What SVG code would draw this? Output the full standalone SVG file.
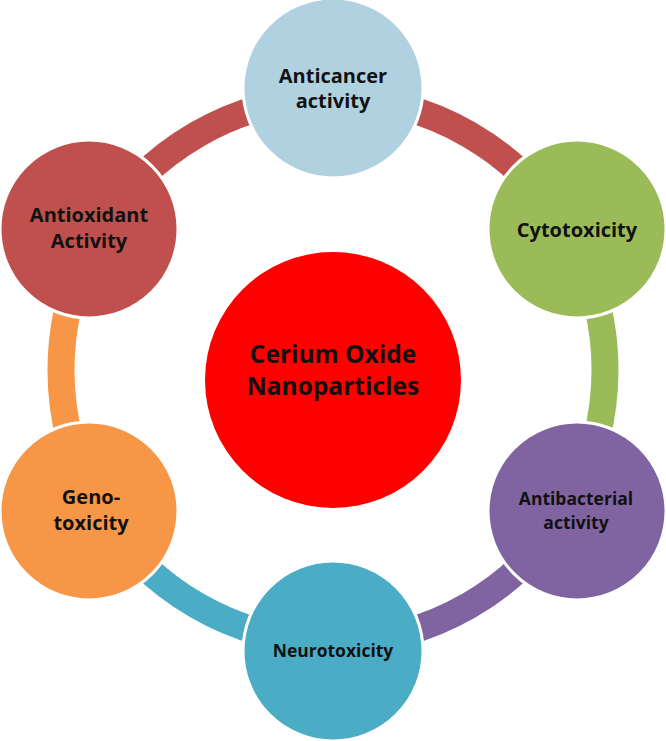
<svg xmlns="http://www.w3.org/2000/svg" width="666" height="741" viewBox="0 0 666 741">
<style>
.seg{fill:none;stroke-width:27}
.node{stroke:#ffffff;stroke-width:3}
.lbl{font-family:"Open Sans","Noto Sans",sans-serif;font-weight:bold;fill:#111111;text-anchor:middle}
</style>
<rect width="666" height="741" fill="#ffffff"/>
<g id="connectors">
<path class="seg" stroke="#C0504D" d="M97.44 234 A272 272 0 0 1 333 98"/>
<path class="seg" stroke="#C0504D" d="M333 98 A272 272 0 0 1 568.56 234"/>
<path class="seg" stroke="#9BBB59" d="M568.56 234 A272 272 0 0 1 568.56 506"/>
<path class="seg" stroke="#8064A2" d="M568.56 506 A272 272 0 0 1 333 642"/>
<path class="seg" stroke="#4BACC6" d="M333 642 A272 272 0 0 1 97.44 506"/>
<path class="seg" stroke="#F79646" d="M97.44 506 A272 272 0 0 1 97.44 234"/>
</g>
<g id="center">
<circle cx="333" cy="380" r="128" fill="#FF0000"/>
<text class="lbl" x="333" y="363" font-size="24.5">Cerium Oxide</text>
<text class="lbl" x="333" y="395" font-size="24.5">Nanoparticles</text>
</g>
<g id="anticancer">
<circle class="node" cx="333" cy="88" r="90" fill="#B0D1DF"/>
<text class="lbl" x="333" y="83" font-size="20">Anticancer</text>
<text class="lbl" x="333" y="108" font-size="20">activity</text>
</g>
<g id="cytotoxicity">
<circle class="node" cx="577" cy="229" r="89" fill="#9BBB59"/>
<text class="lbl" x="577" y="237" font-size="20">Cytotoxicity</text>
</g>
<g id="antibacterial">
<circle class="node" cx="577" cy="511" r="89" fill="#8064A2"/>
<text class="lbl" x="576" y="505" font-size="17.5">Antibacterial</text>
<text class="lbl" x="576" y="529" font-size="17.5">activity</text>
</g>
<g id="neurotoxicity">
<circle class="node" cx="333" cy="651" r="90" fill="#4BACC6"/>
<text class="lbl" x="333" y="657" font-size="17.5">Neurotoxicity</text>
</g>
<g id="genotoxicity">
<circle class="node" cx="89" cy="511" r="89" fill="#F79646"/>
<text class="lbl" x="91" y="504" font-size="20">Geno-</text>
<text class="lbl" x="91" y="530" font-size="20">toxicity</text>
</g>
<g id="antioxidant">
<circle class="node" cx="89" cy="229" r="89" fill="#C0504D"/>
<text class="lbl" x="89" y="222" font-size="20">Antioxidant</text>
<text class="lbl" x="89" y="248" font-size="20">Activity</text>
</g>
</svg>
